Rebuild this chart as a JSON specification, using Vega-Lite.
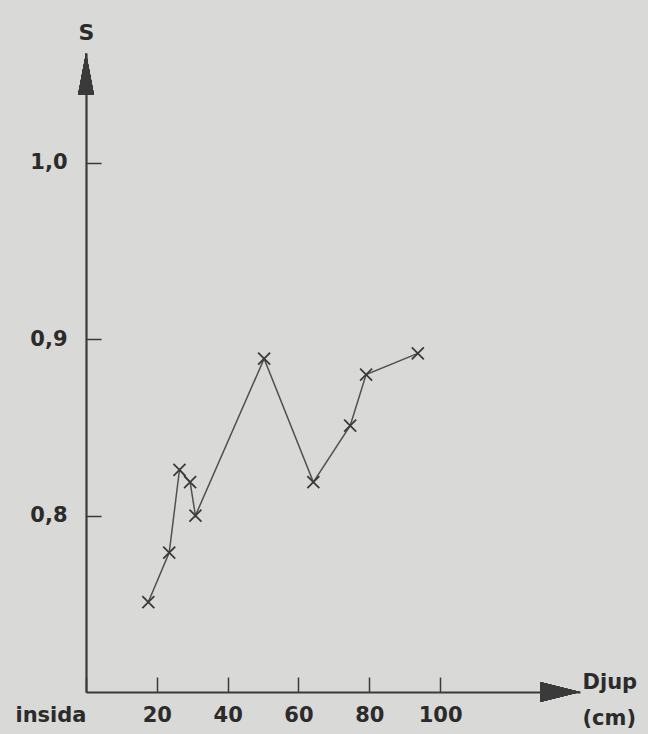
{
  "$schema": "https://vega.github.io/schema/vega-lite/v6.json",
  "width": 494,
  "height": 639,
  "autosize": {"type": "none"},
  "padding": {"left": 86, "top": 53, "right": 68, "bottom": 42},
  "background": "#d9d9d7",
  "config": {"view": {"stroke": null}, "font": "DejaVu Sans"},
  "datasets": {
    "prov": [
      {"djup": 17.6, "s": 0.751},
      {"djup": 23.5, "s": 0.779},
      {"djup": 26.4, "s": 0.826},
      {"djup": 29.4, "s": 0.819},
      {"djup": 30.9, "s": 0.800},
      {"djup": 50.3, "s": 0.889},
      {"djup": 64.2, "s": 0.819},
      {"djup": 74.6, "s": 0.851},
      {"djup": 79.1, "s": 0.880},
      {"djup": 93.7, "s": 0.892}
    ]
  },
  "data": {"name": "prov"},
  "layer": [
    {
      "mark": {"type": "line", "color": "#505050", "strokeWidth": 1.5},
      "encoding": {
        "x": {
          "field": "djup",
          "type": "quantitative",
          "scale": {"domain": [0, 139.5], "nice": false, "zero": false},
          "axis": {
            "values": [0, 20, 40, 60, 80, 100],
            "grid": false,
            "domainColor": "#3a3a3a",
            "domainWidth": 2.2,
            "tickColor": "#3a3a3a",
            "tickWidth": 1.5,
            "tickSize": -15,
            "labelPadding": 27,
            "labelFontSize": 21,
            "labelFontWeight": "bold",
            "labelColor": "#2b2b2b",
            "labelFlush": false,
            "labelOverlap": false,
            "labelExpr": "datum.value == 0 ? 'insida' : datum.label",
            "labelAlign": {"condition": {"test": "datum.value == 0", "value": "right"}, "value": "center"},
            "title": ["Djup", "(cm)"],
            "titleX": 496,
            "titleY": -10,
            "titleAlign": "left",
            "titleBaseline": "middle",
            "titleFontSize": 21,
            "titleFontWeight": "bold",
            "titleColor": "#2b2b2b",
            "titleLineHeight": 36
          }
        },
        "y": {
          "field": "s",
          "type": "quantitative",
          "scale": {"domain": [0.70, 1.0623], "nice": false, "zero": false},
          "axis": {
            "values": [0.8, 0.9, 1.0],
            "grid": false,
            "domainColor": "#3a3a3a",
            "domainWidth": 2.2,
            "tickColor": "#3a3a3a",
            "tickWidth": 1.5,
            "tickSize": -15,
            "labelPadding": 34,
            "labelFontSize": 21,
            "labelFontWeight": "bold",
            "labelColor": "#2b2b2b",
            "labelExpr": "replace(format(datum.value, '.1f'), '.', ',')",
            "title": "S",
            "titleAngle": 0,
            "titleX": 0,
            "titleY": -21,
            "titleAlign": "center",
            "titleBaseline": "middle",
            "titleFontSize": 22,
            "titleFontWeight": "bold",
            "titleColor": "#2b2b2b"
          }
        }
      }
    },
    {
      "mark": {
        "type": "point",
        "shape": "M -1 -1 L 1 1 M -1 1 L 1 -1",
        "size": 144,
        "filled": false,
        "stroke": "#3a3a3a",
        "strokeWidth": 1.8,
        "opacity": 1
      },
      "encoding": {
        "x": {"field": "djup", "type": "quantitative"},
        "y": {"field": "s", "type": "quantitative"}
      }
    },
    {
      "mark": {
        "type": "point",
        "shape": "M 0 0 L 0.38 2 L -0.38 2 Z",
        "size": 1764,
        "filled": true,
        "fill": "#3a3a3a",
        "stroke": "#3a3a3a",
        "strokeWidth": 0,
        "opacity": 1,
        "clip": false
      },
      "encoding": {
        "x": {"datum": 0, "type": "quantitative"},
        "y": {"datum": 1.0623, "type": "quantitative"}
      }
    },
    {
      "mark": {
        "type": "point",
        "shape": "M 0 0 L -2 -0.5 L -2 0.5 Z",
        "size": 1600,
        "filled": true,
        "fill": "#3a3a3a",
        "stroke": "#3a3a3a",
        "strokeWidth": 0,
        "opacity": 1,
        "clip": false
      },
      "encoding": {
        "x": {"datum": 139.5, "type": "quantitative"},
        "y": {"datum": 0.70, "type": "quantitative"}
      }
    }
  ]
}
